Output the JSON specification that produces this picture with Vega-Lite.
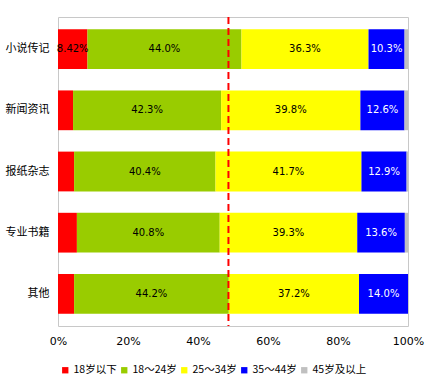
{
  "$schema": "https://vega.github.io/schema/vega-lite/v6.json",
  "width": 350,
  "height": 309,
  "autosize": {"type": "none"},
  "padding": {"left": 58, "top": 17, "right": 24, "bottom": 61},
  "background": "white",
  "config": {
    "view": {"stroke": "#C8C8C8", "strokeWidth": 1},
    "font": "DejaVu Sans, Noto Sans CJK SC"
  },
  "data": {
    "values": [
      {"cat": "小说传记", "age": "18岁以下", "value": 8.42, "label": "8.42%"},
      {"cat": "小说传记", "age": "18～24岁", "value": 44.0, "label": "44.0%"},
      {"cat": "小说传记", "age": "25～34岁", "value": 36.3, "label": "36.3%"},
      {"cat": "小说传记", "age": "35～44岁", "value": 10.3, "label": "10.3%"},
      {"cat": "小说传记", "age": "45岁及以上", "value": 0.98, "label": ""},
      {"cat": "新闻资讯", "age": "18岁以下", "value": 4.3, "label": ""},
      {"cat": "新闻资讯", "age": "18～24岁", "value": 42.3, "label": "42.3%"},
      {"cat": "新闻资讯", "age": "25～34岁", "value": 39.8, "label": "39.8%"},
      {"cat": "新闻资讯", "age": "35～44岁", "value": 12.6, "label": "12.6%"},
      {"cat": "新闻资讯", "age": "45岁及以上", "value": 1.0, "label": ""},
      {"cat": "报纸杂志", "age": "18岁以下", "value": 4.6, "label": ""},
      {"cat": "报纸杂志", "age": "18～24岁", "value": 40.4, "label": "40.4%"},
      {"cat": "报纸杂志", "age": "25～34岁", "value": 41.7, "label": "41.7%"},
      {"cat": "报纸杂志", "age": "35～44岁", "value": 12.9, "label": "12.9%"},
      {"cat": "报纸杂志", "age": "45岁及以上", "value": 0.4, "label": ""},
      {"cat": "专业书籍", "age": "18岁以下", "value": 5.4, "label": ""},
      {"cat": "专业书籍", "age": "18～24岁", "value": 40.8, "label": "40.8%"},
      {"cat": "专业书籍", "age": "25～34岁", "value": 39.3, "label": "39.3%"},
      {"cat": "专业书籍", "age": "35～44岁", "value": 13.6, "label": "13.6%"},
      {"cat": "专业书籍", "age": "45岁及以上", "value": 0.9, "label": ""},
      {"cat": "其他", "age": "18岁以下", "value": 4.6, "label": ""},
      {"cat": "其他", "age": "18～24岁", "value": 44.2, "label": "44.2%"},
      {"cat": "其他", "age": "25～34岁", "value": 37.2, "label": "37.2%"},
      {"cat": "其他", "age": "35～44岁", "value": 14.0, "label": "14.0%"},
      {"cat": "其他", "age": "45岁及以上", "value": 0.0, "label": ""}
    ]
  },
  "transform": [
    {"stack": "value", "groupby": ["cat"], "sort": [{"field": "age", "order": "ascending"}], "as": ["x0", "x1"]},
    {"calculate": "(datum.x0 + datum.x1) / 2", "as": "mid"}
  ],
  "layer": [
    {
      "mark": {"type": "bar"},
      "encoding": {
        "y": {
          "field": "cat", "type": "nominal",
          "sort": ["小说传记", "新闻资讯", "报纸杂志", "专业书籍", "其他"],
          "scale": {"paddingInner": 0.35, "paddingOuter": 0.2},
          "axis": {"title": null, "domain": false, "ticks": false, "labelPadding": 9, "labelFontSize": 11, "labelColor": "#000", "labelFont": "Noto Sans CJK SC"}
        },
        "x": {
          "field": "x0", "type": "quantitative",
          "scale": {"domain": [0, 100], "nice": false},
          "axis": {"title": null, "values": [0, 20, 40, 60, 80, 100], "labelExpr": "datum.value + '%'", "grid": false, "domain": false, "ticks": false, "labelPadding": 9, "labelFontSize": 11, "labelColor": "#000", "labelFlush": false}
        },
        "x2": {"field": "x1"},
        "color": {
          "field": "age", "type": "nominal",
          "scale": {
            "domain": ["18岁以下", "18～24岁", "25～34岁", "35～44岁", "45岁及以上"],
            "range": ["#FF0000", "#99CC00", "#FFFF00", "#0000FF", "#C0C0C0"]
          },
          "legend": {
            "title": null, "orient": "none", "legendX": 2, "legendY": 348,
            "direction": "horizontal", "columns": 5, "gridAlign": "none",
            "symbolType": "square", "symbolSize": 40, "symbolStrokeWidth": 0,
            "labelFont": "Noto Sans CJK SC", "labelFontSize": 10.5, "labelColor": "#000", "labelOffset": 3, "columnPadding": 2
          }
        }
      }
    },
    {
      "mark": {"type": "text", "fontSize": 10, "baseline": "middle", "align": "center"},
      "encoding": {
        "y": {"field": "cat", "type": "nominal", "sort": ["小说传记", "新闻资讯", "报纸杂志", "专业书籍", "其他"]},
        "x": {"field": "mid", "type": "quantitative"},
        "text": {"field": "label"},
        "color": {"condition": {"test": "datum.age === '35～44岁'", "value": "white"}, "value": "black"}
      }
    },
    {
      "data": {"values": [{"ref": 48.7}]},
      "mark": {"type": "rule", "color": "#FF0000", "strokeWidth": 2, "strokeDash": [7, 4]},
      "encoding": {"x": {"field": "ref", "type": "quantitative"}}
    }
  ]
}
